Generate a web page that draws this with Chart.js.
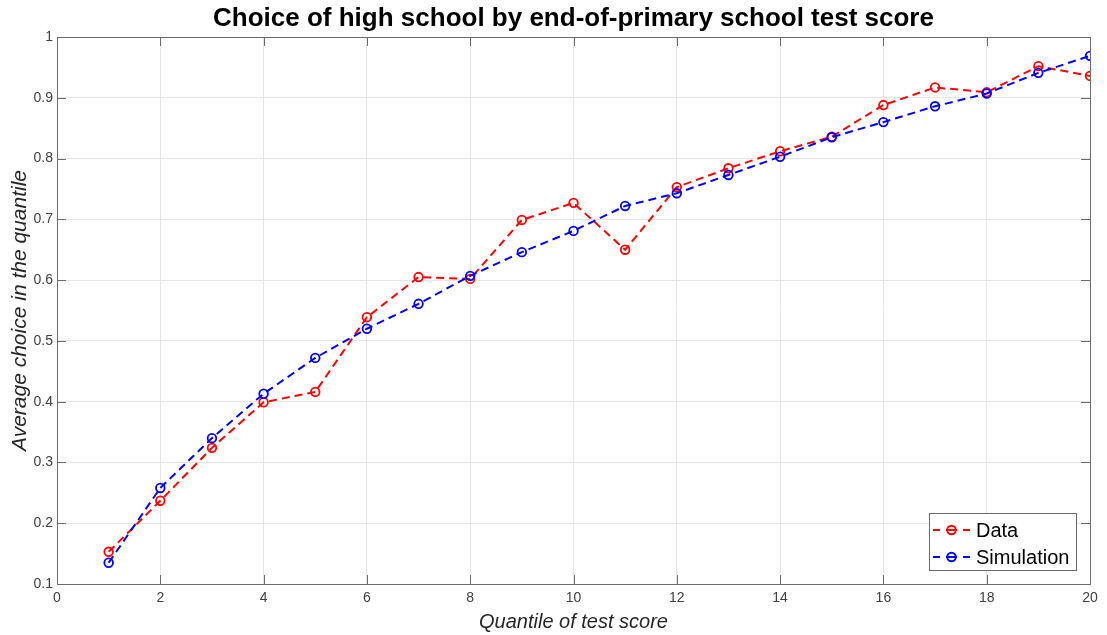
<!DOCTYPE html>
<html>
<head>
<meta charset="utf-8">
<script src="https://cdn.jsdelivr.net/npm/chart.js@4.4.1/dist/chart.umd.min.js"></script>
<style>
  html, body { margin: 0; padding: 0; background: #fff; }
  #wrap { width: 1107px; height: 635px; position: relative; }
</style>
</head>
<body>
<div id="wrap"><canvas id="c" width="1107" height="635"></canvas></div>
<script>
// Quantiles of the end-of-primary test score
const quantiles = [1, 2, 3, 4, 5, 6, 7, 8, 9, 10, 11, 12, 13, 14, 15, 16, 17, 18, 19, 20];
// Observed average high-school choice per quantile
const dataValues = [0.153, 0.237, 0.324, 0.399, 0.416, 0.539, 0.605, 0.602, 0.699, 0.727,
                    0.650, 0.753, 0.784, 0.812, 0.836, 0.888, 0.917, 0.909, 0.952, 0.936];
// Simulated average high-school choice per quantile
const simValues = [0.135, 0.258, 0.340, 0.413, 0.472, 0.520, 0.561, 0.607, 0.646, 0.681,
                   0.722, 0.743, 0.773, 0.803, 0.835, 0.860, 0.886, 0.907, 0.941, 0.969];
const xTicks = [0, 2, 4, 6, 8, 10, 12, 14, 16, 18, 20];
const yTicks = [0.1, 0.2, 0.3, 0.4, 0.5, 0.6, 0.7, 0.8, 0.9, 1];

const AXIS_COLOR = '#6b6b6b';
const TEXT_COLOR = '#404040';
const FONT = 'Liberation Sans, Arial, Helvetica, sans-serif';

function toPoints(ys) {
  return quantiles.map((q, i) => ({ x: q, y: ys[i] }));
}

// Center the title over the plotting area rather than the whole canvas
const titleOverAxes = {
  id: 'titleOverAxes',
  afterLayout(chart) {
    const t = chart.titleBlock;
    if (!t) return;
    t.left = chart.chartArea.left;
    t.right = chart.chartArea.right;
    t.width = t.right - t.left;
  }
};

// Box around the axes with inward tick marks on all four sides
const axesBox = {
  id: 'axesBox',
  afterDatasetsDraw(chart) {
    const { ctx, chartArea: a, scales: { x, y } } = chart;
    ctx.save();
    ctx.strokeStyle = AXIS_COLOR;
    ctx.lineWidth = 1;
    const tl = 9;
    ctx.beginPath();
    xTicks.forEach(v => {
      const px = Math.round(x.getPixelForValue(v)) + 0.5;
      ctx.moveTo(px, a.bottom); ctx.lineTo(px, a.bottom - tl);
      ctx.moveTo(px, a.top); ctx.lineTo(px, a.top + tl);
    });
    yTicks.forEach(v => {
      const py = Math.round(y.getPixelForValue(v)) + 0.5;
      ctx.moveTo(a.left, py); ctx.lineTo(a.left + tl, py);
      ctx.moveTo(a.right, py); ctx.lineTo(a.right - tl, py);
    });
    ctx.stroke();
    ctx.strokeRect(Math.round(a.left) + 0.5, Math.round(a.top) + 0.5,
                   Math.round(a.right - a.left), Math.round(a.bottom - a.top));
    ctx.restore();
  }
};

// Legend box in the lower-right corner of the axes
const insetLegend = {
  id: 'insetLegend',
  afterDraw(chart) {
    const { ctx, chartArea: a } = chart;
    const ds = chart.data.datasets;
    const w = 147, rowH = 27, h = 57;
    const bx = a.right - 14 - w, by = a.bottom - 14 - h;
    ctx.save();
    ctx.fillStyle = '#fff';
    ctx.fillRect(bx, by, w, h);
    ctx.strokeStyle = AXIS_COLOR;
    ctx.lineWidth = 1;
    ctx.strokeRect(Math.round(bx) + 0.5, Math.round(by) + 0.5, w, h);
    ds.forEach((d, i) => {
      const cy = by + 17 + i * rowH;
      ctx.strokeStyle = d.borderColor;
      ctx.lineWidth = 2;
      ctx.beginPath();
      ctx.moveTo(bx + 4, cy); ctx.lineTo(bx + 11, cy);
      ctx.moveTo(bx + 34, cy); ctx.lineTo(bx + 41, cy);
      ctx.stroke();
      ctx.beginPath();
      ctx.moveTo(bx + 17, cy); ctx.lineTo(bx + 28, cy);
      ctx.stroke();
      ctx.beginPath();
      ctx.arc(bx + 22.5, cy, 4.3, 0, Math.PI * 2);
      ctx.stroke();
      ctx.fillStyle = '#000';
      ctx.font = '20px ' + FONT;
      ctx.textBaseline = 'middle';
      ctx.textAlign = 'left';
      ctx.fillText(d.label, bx + 47, cy + 1);
    });
    ctx.restore();
  }
};

function seriesStyle(color) {
  return {
    borderColor: color,
    backgroundColor: color,
    borderWidth: 2,
    borderDash: [8, 5],
    pointRadius: 4.3,
    pointHoverRadius: 4.3,
    pointBorderWidth: 1.8,
    pointBackgroundColor: 'rgba(0,0,0,0)',
    pointBorderColor: color,
    tension: 0,
    fill: false
  };
}

new Chart(document.getElementById('c'), {
  type: 'line',
  data: {
    datasets: [
      Object.assign({ label: 'Data', data: toPoints(dataValues), order: 2 }, seriesStyle('#ff0000')),
      Object.assign({ label: 'Simulation', data: toPoints(simValues), order: 1 }, seriesStyle('#0000ff'))
    ]
  },
  options: {
    responsive: false,
    animation: false,
    events: [],
    layout: { padding: { left: 0, right: 17, top: 0, bottom: 0 } },
    plugins: {
      legend: { display: false },
      tooltip: { enabled: false },
      title: {
        display: true,
        text: 'Choice of high school by end-of-primary school test score',
        color: '#000',
        font: { family: FONT, size: 26, weight: 'bold', lineHeight: 1.2 },
        padding: { top: 3, bottom: 2.8 }
      }
    },
    scales: {
      x: {
        type: 'linear',
        min: 0, max: 20,
        afterFit(s) { s.height = 51; },
        afterBuildTicks(s) { s.ticks = xTicks.map(v => ({ value: v })); },
        ticks: { color: TEXT_COLOR, font: { family: FONT, size: 14 }, padding: 6, maxRotation: 0 },
        grid: { color: '#e6e6e6', drawTicks: false, lineWidth: 1 },
        border: { display: false },
        title: {
          display: true,
          text: 'Quantile of test score',
          color: '#262626',
          font: { family: FONT, size: 20, style: 'italic', lineHeight: 1.2 },
          padding: { top: 0, bottom: 1 }
        }
      },
      y: {
        type: 'linear',
        min: 0.1, max: 1,
        afterFit(s) { s.width = 57; },
        afterBuildTicks(s) { s.ticks = yTicks.map(v => ({ value: v })); },
        ticks: {
          color: TEXT_COLOR, font: { family: FONT, size: 14 }, padding: 4,
          callback: v => String(Number(v.toFixed(1)))
        },
        grid: { color: '#e6e6e6', drawTicks: false, lineWidth: 1 },
        border: { display: false },
        title: {
          display: true,
          text: 'Average choice in the quantile',
          color: '#262626',
          font: { family: FONT, size: 21, style: 'italic', lineHeight: 1.2 },
          padding: { top: 8, bottom: 0 }
        }
      }
    }
  },
  plugins: [titleOverAxes, axesBox, insetLegend]
});
</script>
</body>
</html>
